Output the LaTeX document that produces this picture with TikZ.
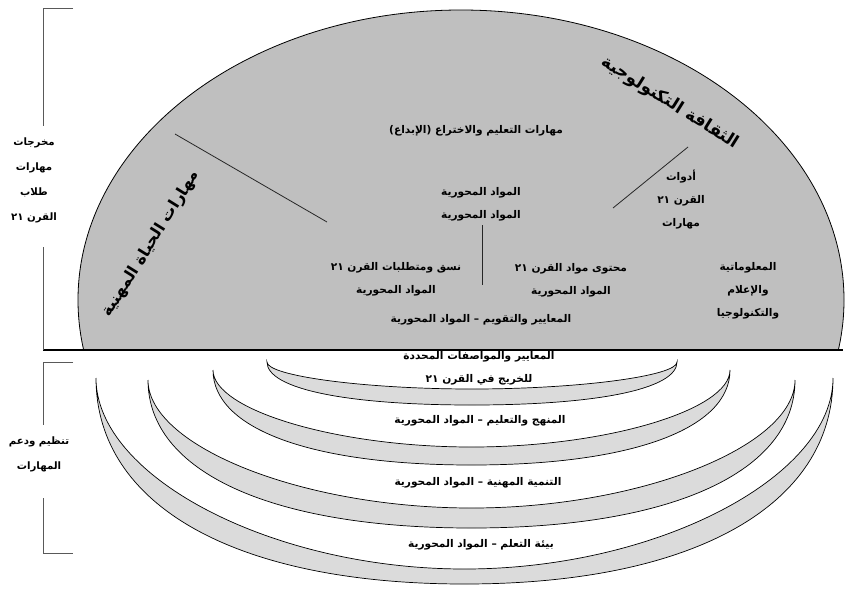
\documentclass[tikz,border=0pt]{standalone}
\usepackage{fontspec}
\TeXXeTstate=1
\newfontfamily\arfont[Script=Arabic]{DejaVu Sans}
\newcommand{\AR}[1]{{\arfont\beginR #1\endR}}
\newcommand{\moonshape}[5]{%
  \pgfmathsetmacro\moonC{(#1+#2)/2}%
  \pgfmathsetmacro\moonHLo{\moonC-0.62*(\moonC-#1)}%
  \pgfmathsetmacro\moonHRo{\moonC+0.62*(#2-\moonC)}%
  \pgfmathsetmacro\moonHLi{\moonC-0.52*(\moonC-#1)}%
  \pgfmathsetmacro\moonHRi{\moonC+0.52*(#2-\moonC)}%
  \pgfmathsetmacro\moonVO{#3+0.62*(#5-#3)}%
  \pgfmathsetmacro\moonVI{#3+0.52*(#4-#3)}%
  \path[moon] (#1,#3) .. controls (#1,\moonVO) and (\moonHLo,#5) .. (\moonC,#5)
     .. controls (\moonHRo,#5) and (#2,\moonVO) .. (#2,#3)
     .. controls (#2,\moonVI) and (\moonHRi,#4) .. (\moonC,#4)
     .. controls (\moonHLi,#4) and (#1,\moonVI) .. cycle;}
\tikzset{
  lbl/.style={font=\arfont\bfseries\fontsize{10.6}{23}\selectfont, align=center, inner sep=0pt},
  side/.style={font=\arfont\bfseries\fontsize{10.2}{25}\selectfont, align=center, inner sep=0pt},
  ttl/.style={font=\arfont\bfseries\fontsize{17}{19}\selectfont, inner sep=0pt},
  ttlb/.style={font=\arfont\bfseries\fontsize{16}{18}\selectfont, inner sep=0pt},
  brk/.style={draw=black!65, line width=1pt},
  sep/.style={draw=black!85, line width=0.8pt},
  moon/.style={fill=black!14, draw=black, line width=0.7pt},
}
\begin{document}
\begin{tikzpicture}[x=1pt,y=-1pt]
\useasboundingbox (0,0) rectangle (848,592);
% big half ellipse
\begin{scope}
  \clip (0,0) rectangle (848,350);
  \filldraw[fill=black!25, draw=black, line width=0.8pt] (461,300) ellipse [x radius=383pt, y radius=290pt];
\end{scope}
\draw[line width=1.2pt] (43,350) -- (843,350);
% brackets
\draw[brk] (73,8) -- (43,8) -- (43,126);
\draw[brk] (43,247) -- (43,350);
\draw[brk] (73,362) -- (43,362) -- (43,425);
\draw[brk] (43,498) -- (43,553) -- (73,553);
% separators in ellipse
\coordinate (l1) at (175,134); \coordinate (l2) at (327,222);
\coordinate (r1) at (688,147); \coordinate (r2) at (613,208);
\coordinate (v1) at (482,225); \coordinate (v2) at (482,285);
\draw[sep] (l1) -- (l2);
\draw[sep] (r1) -- (r2);
\draw[sep] (v1) -- (v2);
% titles
\node[ttl, rotate=-32] (tech) at (670,103) {\AR{الثقافة التكنولوجية}};
\node[ttlb, rotate=58] (life) at (151,244) {\AR{مهارات الحياة المهنية}};
% inner labels
\node[lbl] (learn) at (476,131) {\AR{مهارات التعليم والاختراع (الإبداع)}};
\node[lbl] (core) at (481,204) {\AR{المواد المحورية}\\\AR{المواد المحورية}};
\node[lbl] (ctx) at (396,279) {\AR{نسق ومتطلبات القرن ٢١}\\\AR{المواد المحورية}};
\node[lbl] (cont) at (571,280) {\AR{محتوى مواد القرن ٢١}\\\AR{المواد المحورية}};
\node[lbl] (assess) at (481,320) {\AR{المعايير والتقويم – المواد المحورية}};
\node[lbl] (tools) at (681,200) {\AR{أدوات}\\\AR{القرن ٢١}\\\AR{مهارات}};
\node[lbl] (info) at (748,291) {\AR{المعلوماتية}\\\AR{والإعلام}\\\AR{والتكنولوجيا}};
% left labels
\node[side] (out) at (34,180) {\AR{مخرجات}\\\AR{مهارات}\\\AR{طلاب}\\\AR{القرن ٢١}};
\node[side] (org) at (39,454) {\AR{تنظيم ودعم}\\\AR{المهارات}};
% crescents
\moonshape{267}{677}{362}{389}{405}
\moonshape{213}{730}{370}{447}{465}
\moonshape{148}{795}{380}{508}{528}
\moonshape{96}{833}{378}{569}{584}
% crescent labels
\node[lbl] (std) at (479,368) {\AR{المعايير والمواصفات المحددة}\\\AR{للخريج في القرن ٢١}};
\node[lbl] (curr) at (480,421) {\AR{المنهج والتعليم – المواد المحورية}};
\node[lbl] (prof) at (478,483) {\AR{التنمية المهنية – المواد المحورية}};
\node[lbl] (env) at (481,545) {\AR{بيئة التعلم – المواد المحورية}};
\end{tikzpicture}
\end{document}
